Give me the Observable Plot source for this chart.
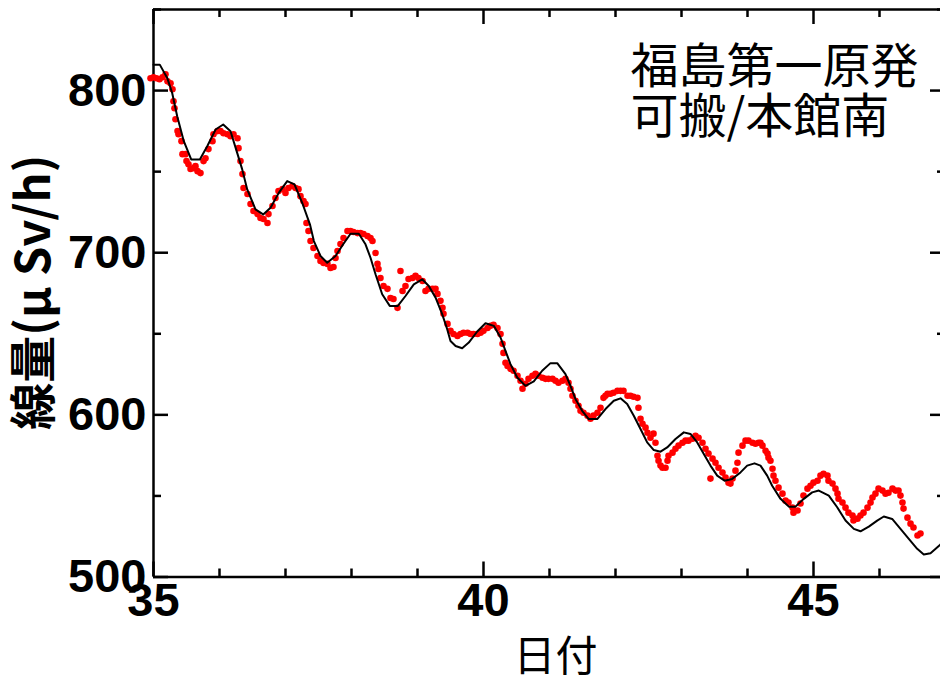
<!DOCTYPE html>
<html>
<head>
<meta charset="utf-8">
<script src="https://cdn.jsdelivr.net/npm/d3@7"></script>
<script src="https://cdn.jsdelivr.net/npm/@observablehq/plot@0.6"></script>
<style>
  html, body { margin: 0; padding: 0; background: #fff; }
  #chart svg { display: block; }
</style>
</head>
<body>
<div id="chart"></div>
<script>
// Dose rate at the main-building south monitoring point, elapsed days 35–47.

// Measured dose rate [day, μSv/h]
const measured = [
  [34.955,807.6],[35.000,808.2],[35.045,807.6],[35.091,807.0],[35.136,808.2],[35.182,810.1],[35.212,805.7],[35.258,804.5],
  [35.288,800.8],[35.303,793.4],[35.318,789.1],[35.333,782.3],[35.364,775.0],[35.379,773.1],[35.424,768.8],[35.439,760.8],
  [35.485,760.8],[35.500,756.5],[35.530,754.6],[35.561,751.6],[35.606,752.2],[35.636,753.4],[35.667,750.3],[35.712,749.1],
  [35.758,756.5],[35.788,758.3],[35.833,763.9],[35.894,768.8],[35.909,773.1],[35.970,775.0],[36.015,775.0],[36.061,773.7],
  [36.121,773.1],[36.167,771.9],[36.212,773.1],[36.273,770.6],[36.288,764.5],[36.318,756.5],[36.348,748.5],[36.364,739.9],
  [36.424,736.2],[36.470,730.0],[36.515,725.7],[36.576,723.8],[36.621,721.4],[36.667,720.8],[36.727,718.3],[36.742,723.8],
  [36.803,728.8],[36.848,733.7],[36.894,738.0],[36.955,739.2],[37.000,736.8],[37.045,739.9],[37.106,741.1],[37.152,739.9],
  [37.197,739.2],[37.227,734.9],[37.273,731.8],[37.303,730.0],[37.318,718.3],[37.348,713.4],[37.379,707.2],[37.424,702.9],
  [37.485,698.0],[37.530,694.9],[37.576,693.7],[37.636,693.1],[37.682,690.6],[37.727,691.2],[37.758,696.7],[37.788,701.1],
  [37.833,705.4],[37.879,709.1],[37.939,713.4],[37.985,713.4],[38.030,712.8],[38.091,712.1],[38.136,712.1],[38.182,711.5],
  [38.242,710.3],[38.288,709.1],[38.318,707.2],[38.364,699.8],[38.394,693.1],[38.409,690.0],[38.439,684.4],[38.485,679.5],
  [38.545,677.7],[38.591,672.1],[38.636,671.5],[38.697,666.0],[38.742,688.7],[38.773,676.4],[38.818,679.5],[38.864,683.8],
  [38.924,684.4],[38.970,685.7],[39.015,684.4],[39.076,682.6],[39.121,676.4],[39.167,677.7],[39.227,677.7],[39.273,677.7],
  [39.303,674.6],[39.348,670.3],[39.379,666.0],[39.394,662.3],[39.455,656.1],[39.500,651.8],[39.545,649.9],[39.606,648.7],
  [39.652,649.9],[39.697,650.6],[39.758,650.6],[39.803,649.9],[39.848,649.9],[39.909,649.9],[39.955,650.6],[40.000,651.8],
  [40.061,653.6],[40.106,654.9],[40.152,655.5],[40.212,653.6],[40.258,649.9],[40.288,643.8],[40.303,638.2],[40.333,632.1],
  [40.364,630.2],[40.409,628.4],[40.455,627.2],[40.515,624.1],[40.561,621.0],[40.591,616.1],[40.636,619.2],[40.682,622.2],
  [40.742,624.1],[40.788,625.3],[40.833,624.1],[40.894,622.9],[40.939,622.2],[40.985,622.2],[41.045,622.2],[41.091,621.0],
  [41.136,619.8],[41.197,621.0],[41.242,622.2],[41.288,619.8],[41.318,616.1],[41.348,611.8],[41.394,608.7],[41.439,605.6],
  [41.470,602.5],[41.515,601.3],[41.576,599.5],[41.621,597.6],[41.667,599.5],[41.727,601.3],[41.773,604.4],[41.818,610.5],
  [41.848,611.8],[41.879,613.0],[41.924,613.0],[41.970,613.6],[42.030,614.8],[42.076,614.8],[42.121,614.8],[42.182,611.8],
  [42.227,611.8],[42.273,611.2],[42.333,610.5],[42.348,604.4],[42.379,597.6],[42.409,594.5],[42.455,592.1],[42.485,589.0],
  [42.530,585.9],[42.576,588.4],[42.606,582.8],[42.636,574.8],[42.652,571.7],[42.682,568.7],[42.712,567.4],[42.758,567.4],
  [42.788,571.7],[42.803,574.8],[42.864,576.7],[42.909,579.1],[42.955,581.0],[43.015,582.8],[43.061,584.1],[43.106,584.1],
  [43.167,585.3],[43.212,587.1],[43.258,585.9],[43.318,582.8],[43.364,579.1],[43.409,576.1],[43.439,560.7],[43.470,573.0],
  [43.515,570.5],[43.561,567.4],[43.621,564.4],[43.667,561.3],[43.712,558.2],[43.742,557.6],[43.773,560.7],[43.818,565.6],
  [43.848,570.5],[43.864,576.7],[43.924,581.0],[43.970,584.1],[44.015,584.1],[44.076,582.8],[44.121,582.2],[44.167,582.8],
  [44.197,582.8],[44.227,581.0],[44.273,577.9],[44.303,576.1],[44.318,573.6],[44.348,571.7],[44.379,566.8],[44.394,562.5],
  [44.424,559.4],[44.470,555.1],[44.530,551.4],[44.576,547.1],[44.621,545.9],[44.682,542.8],[44.697,539.7],[44.758,541.0],
  [44.803,545.3],[44.848,550.2],[44.909,554.5],[44.955,556.3],[45.000,558.2],[45.061,559.4],[45.106,562.5],[45.152,563.7],
  [45.212,562.5],[45.227,559.4],[45.288,557.6],[45.333,554.5],[45.364,551.4],[45.379,548.3],[45.439,545.9],[45.485,542.8],
  [45.530,539.7],[45.591,537.9],[45.606,534.8],[45.667,536.0],[45.712,537.9],[45.758,539.7],[45.818,542.8],[45.864,545.9],
  [45.894,549.0],[45.939,551.4],[45.985,554.5],[46.045,553.3],[46.091,551.4],[46.136,552.0],[46.197,554.5],[46.242,553.3],
  [46.288,553.3],[46.318,550.2],[46.348,545.9],[46.364,542.2],[46.424,536.6],[46.470,532.9],[46.515,530.5],[46.576,525.6],
  [46.621,526.8]
];

// Model curve [day, μSv/h]
const model = [
  [35.000,816.0],[35.095,816.0],[35.208,807.8],[35.283,798.5],[35.359,784.2],[35.459,768.8],[35.571,757.5],[35.702,757.5],
  [35.814,765.7],[35.941,776.0],[36.056,779.1],[36.167,774.9],[36.268,761.6],[36.344,751.4],[36.420,739.0],[36.545,726.7],
  [36.662,723.6],[36.773,727.7],[36.898,736.9],[37.026,744.2],[37.136,742.1],[37.253,730.8],[37.370,717.5],[37.430,707.2],
  [37.530,698.0],[37.632,693.8],[37.758,698.0],[37.874,705.2],[37.985,711.7],[38.111,711.7],[38.212,705.2],[38.288,696.9],
  [38.364,686.7],[38.465,674.4],[38.580,667.2],[38.702,667.2],[38.818,673.3],[38.944,680.5],[39.071,683.6],[39.171,679.5],
  [39.274,672.3],[39.374,662.1],[39.450,652.8],[39.500,645.6],[39.577,642.5],[39.677,641.1],[39.777,644.6],[39.905,651.4],
  [40.030,656.5],[40.156,654.9],[40.258,647.7],[40.333,639.5],[40.409,631.3],[40.511,623.0],[40.636,617.9],[40.762,620.6],
  [40.889,627.2],[41.015,631.9],[41.117,631.9],[41.242,625.1],[41.318,617.9],[41.394,609.7],[41.495,602.5],[41.595,597.4],
  [41.723,597.4],[41.848,603.6],[41.974,608.7],[42.076,610.2],[42.177,606.7],[42.277,599.4],[42.379,591.3],[42.480,583.0],
  [42.580,578.3],[42.682,577.3],[42.783,579.9],[42.909,585.1],[43.035,589.2],[43.136,588.2],[43.238,583.0],[43.338,575.9],
  [43.439,568.7],[43.541,562.5],[43.652,559.4],[43.768,560.5],[43.894,564.5],[43.995,568.7],[44.106,570.1],[44.197,568.7],
  [44.298,562.5],[44.374,556.3],[44.500,548.2],[44.626,543.4],[44.727,543.4],[44.853,548.2],[44.980,552.2],[45.080,553.3],
  [45.232,550.2],[45.359,543.0],[45.485,534.8],[45.611,529.7],[45.712,528.2],[45.838,531.1],[45.965,534.8],[46.065,537.3],
  [46.192,535.8],[46.318,529.7],[46.444,523.5],[46.571,517.4],[46.671,513.9],[46.773,514.7],[46.924,520.0],[47.000,524.0]
];

// Axis ticks and labels
const xMajor = [35, 40, 45];
const xMinor = [36, 37, 38, 39, 41, 42, 43, 44, 46, 47];
const yMajor = [500, 600, 700, 800];
const yMinor = [550, 650, 750, 850];
const xLabel = "日付";
const yLabel = "線量(μ Sv/h)";
const siteLabel = "福島第一原発\n可搬/本館南";

const latin = "'Liberation Sans', Arial, Helvetica, sans-serif";
const cjk = "'Noto Sans CJK JP', 'Liberation Sans', sans-serif";
const axisStroke = 2.5;

// frame geometry
const W = 940, H = 682;
const mLeft = 153, mRight = -5, mTop = 9, mBottom = 105.5;
const frameW = W - mLeft - mRight;
const frameH = H - mTop - mBottom;

// inward tick marks on all four sides
const inwardTicks = (len, xs, ys) => [
  Plot.tickX(xs, {x: d => d, stroke: "#000", strokeWidth: axisStroke, insetTop: frameH - len}),
  Plot.tickX(xs, {x: d => d, stroke: "#000", strokeWidth: axisStroke, insetBottom: frameH - len}),
  Plot.tickY(ys, {y: d => d, stroke: "#000", strokeWidth: axisStroke, insetRight: frameW - len}),
  Plot.tickY(ys, {y: d => d, stroke: "#000", strokeWidth: axisStroke, insetLeft: frameW - len})
];

const chart = Plot.plot({
  width: W,
  height: H,
  marginLeft: mLeft,
  marginRight: mRight,
  marginTop: mTop,
  marginBottom: mBottom,
  style: {background: "#fff", color: "#000", overflow: "visible"},
  x: {domain: [35, 47], axis: null},
  y: {domain: [500, 850], axis: null},
  marks: [
    // frame
    Plot.ruleX([35, 47], {x: d => d, stroke: "#000", strokeWidth: axisStroke}),
    Plot.ruleY([500, 850], {y: d => d, stroke: "#000", strokeWidth: axisStroke}),
    ...inwardTicks(15, xMajor, yMajor),
    ...inwardTicks(8, xMinor, yMinor),
    // tick labels
    Plot.axisX({anchor: "bottom", ticks: xMajor, tickSize: 0, tickPadding: 6, label: null,
      fontSize: 47, fontWeight: "bold", fontFamily: latin, tickFormat: d => String(d)}),
    Plot.axisY({anchor: "left", ticks: yMajor, tickSize: 0, tickPadding: 7, label: null,
      fontSize: 47, fontWeight: "bold", fontFamily: latin, tickFormat: d => String(d)}),
    // measured points
    Plot.dot(measured, {x: d => d[0], y: d => d[1], r: 3.3, fill: "#ff0000", stroke: "none"}),
    // model curve
    Plot.line(model, {x: d => d[0], y: d => d[1], stroke: "#000", strokeWidth: 2}),
    // axis titles
    Plot.text([xLabel], {text: d => d, frameAnchor: "bottom", dx: 6, dy: 81, lineAnchor: "middle",
      fontSize: 42, fontFamily: cjk, fill: "#000"}),
    Plot.text([yLabel], {text: d => d, frameAnchor: "left", dx: -119, dy: -1, rotate: -90,
      textAnchor: "middle", lineAnchor: "middle", fontSize: 47, fontWeight: "bold", fontFamily: cjk, fill: "#000"}),
    // site annotation
    Plot.text([siteLabel], {text: d => d, frameAnchor: "top-left", dx: 477, dy: 38, textAnchor: "start",
      lineAnchor: "top", lineHeight: 1.04, fontSize: 48, fontFamily: cjk, fill: "#000"})
  ]
});

document.getElementById("chart").append(chart);
</script>
</body>
</html>
